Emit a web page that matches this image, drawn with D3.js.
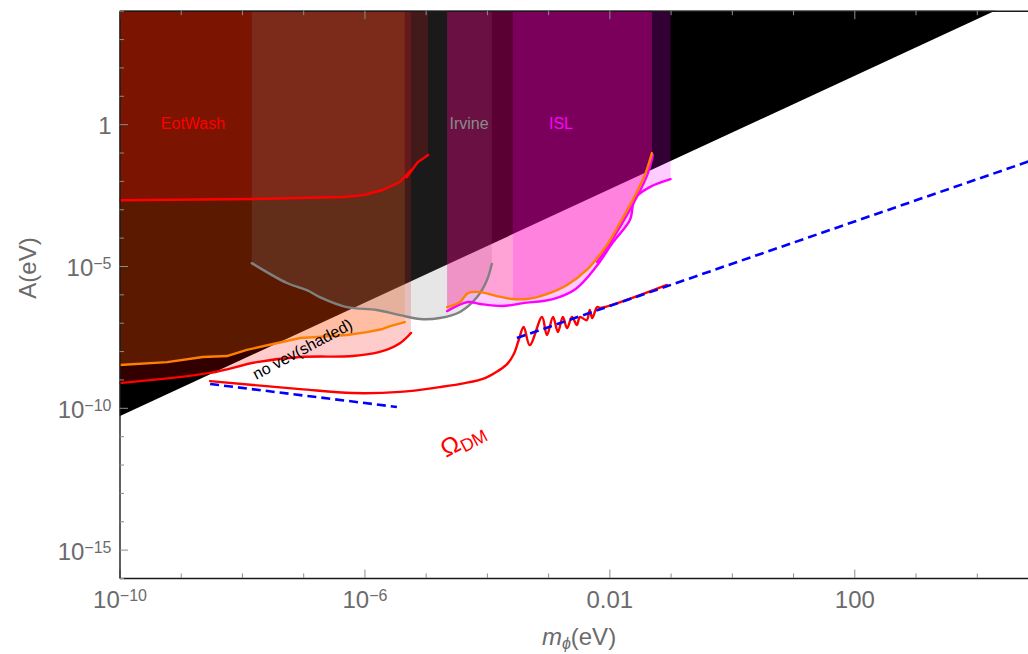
<!DOCTYPE html>
<html><head><meta charset="utf-8">
<script src="https://cdn.jsdelivr.net/npm/d3@7/dist/d3.min.js"></script>
<style>
body{margin:0;background:#fff}
svg{display:block}
text{font-family:"Liberation Sans",Arial,Helvetica,sans-serif}
</style>
</head><body>
<svg id="c" width="1028" height="654"></svg>
<script>
// ---------------- data (log10 m [eV], log10 A [eV]) ----------------
const xDomain = [1e-10, 1e5];
const yDomain = [1e-16, 1e4];
const xMinorTicks = [1e-10,1e-9,1e-8,1e-7,1e-6,1e-5,1e-4,1e-3,1e-2,1e-1,1,10,100,1e3,1e4,1e5];
const xMajorTicks = [1e-10, 1e-6, 1e-2, 1e2];
const xTickLabels = [["10","−10"],["10","−6"],["0.01",""],["100",""]];
const yMinorTicks = [1e-16,1e-15,1e-14,1e-13,1e-12,1e-11,1e-10,1e-9,1e-8,1e-7,1e-6,1e-5,1e-4,1e-3,1e-2,1e-1,1,10,100,1e3,1e4];
const yMajorTicks = [1, 1e-5, 1e-10, 1e-15];
const yTickLabels = [["1",""],["10","−5"],["10","−10"],["10","−15"]];

// boundary A = m/2 (no vev above)
const vevLine = [[-10,-10.3],[5,4.7]];

// EotWash upper red curve
const eotUpper = [[-10,-2.68],[-7.82,-2.64],[-6.35,-2.57],[-6.02,-2.50],[-5.70,-2.32],[-5.42,-2.04],
  [-5.24,-1.62],[-5.31,-1.87],[-5.13,-1.34],[-4.96,-1.09]];
// EotWash lower red curve
const eotLower = [[-10,-9.13],[-8.52,-8.77],[-7.755,-8.39],[-7.05,-8.21],[-6.19,-8.175],[-5.75,-8.03],
  [-5.42,-7.72],[-5.24,-7.36]];
// orange curve (left)
const orangeLeft = [[-10,-8.49],[-9.22,-8.39],[-8.64,-8.21],[-8.245,-8.175],[-7.92,-7.96],[-7.49,-7.75],
  [-7.05,-7.54],[-6.775,-7.505],[-6.285,-7.435],[-5.96,-7.33],[-5.70,-7.22],[-5.58,-7.12],[-5.34,-6.98]];
// Irvine gray curve
const irvineGray = [[-7.84,-4.90],[-7.265,-5.60],[-6.94,-5.85],[-6.73,-6.095],[-6.285,-6.45],[-5.80,-6.55],
  [-5.42,-6.73],[-5.09,-6.87],[-4.77,-6.835],[-4.44,-6.62],[-4.16,-6.095],[-4.00,-5.50],[-3.92,-4.93]];
// orange curve (right, ISL region)
const orangeRight = [[-4.65,-6.45],[-4.44,-6.27],[-4.31,-5.955],[-4.11,-5.92],[-3.84,-6.06],[-3.575,-6.165],
  [-3.35,-6.165],[-3.02,-5.99],[-2.69,-5.67],[-2.37,-5.14],[-2.04,-4.26],[-1.83,-3.49],[-1.62,-2.68],
  [-1.42,-1.79],[-1.305,-1.02]];
// ISL magenta outer curve
const islOuter = [[-4.65,-6.59],[-4.31,-6.27],[-4.11,-6.34],[-3.74,-6.41],[-3.41,-6.31],[-2.92,-6.165],
  [-2.55,-5.81],[-2.22,-5.04],[-1.94,-4.16],[-1.665,-3.38],[-1.58,-2.61],[-1.34,-2.22],[-1.00,-1.94]];
// ISL magenta inner curve
const islInner = [[-2.20,-4.86],[-2.01,-4.26],[-1.79,-3.49],[-1.58,-2.68],[-1.38,-1.79],[-1.29,-1.09]];
// Omega_DM red curve
const omegaDM = [[-8.52,-9.06],[-7.05,-9.34],[-6.19,-9.48],[-5.42,-9.44],[-4.77,-9.27],[-4.36,-9.13],
  [-4.03,-8.95],[-3.82,-8.70],[-3.67,-8.46],[-3.56,-8.10],[-3.48,-7.61],[-3.40,-7.15],[-3.30,-7.79],
  [-3.10,-6.80],[-3.02,-7.435],[-2.92,-6.80],[-2.84,-7.33],[-2.76,-6.80],[-2.69,-7.19],[-2.61,-6.80],
  [-2.53,-7.08],[-2.48,-6.80],[-2.37,-6.91],[-2.32,-6.55],[-2.28,-6.84],[-2.20,-6.45],[-2.15,-6.48],
  [-1.06,-5.67]];
// blue dashed asymptotes
const blueLow = [[-8.52,-9.16],[-5.47,-9.97]];
const blueHigh = [[-3.51,-7.54],[5,-1.2]];

// ---------------- drawing ----------------
const svg = d3.select('#c');
const x = d3.scaleLog().domain(xDomain).range([119.5, 1038]);
const y = d3.scaleLog().domain(yDomain).range([578, 10.7]);
const X = p => x(Math.pow(10, p[0]));
const Y = p => y(Math.pow(10, p[1]));
const line = d3.line().x(X).y(Y);
const smooth = d3.line().x(X).y(Y).curve(d3.curveCatmullRom.alpha(0.5));
const topLog = 5;
const above = c => c.concat([[c[c.length-1][0], topLog], [c[0][0], topLog]]);

svg.append('defs').append('clipPath').attr('id','clip')
  .append('rect').attr('x',119.5).attr('y',10.7).attr('width',1038-119.5).attr('height',578-10.7);

const g = svg.append('g').attr('clip-path','url(#clip)');

// black "no vev" region
g.append('path').attr('d', line([vevLine[0], vevLine[1], [-10, vevLine[1][1]]]) + 'Z').attr('fill','#000');

const fills = [
  {c: eotLower, col: 'rgb(255,0,0)'},
  {c: orangeLeft, col: 'rgb(255,128,0)'},
  {c: eotUpper, col: 'rgb(255,0,0)'},
  {c: irvineGray, col: 'rgb(128,128,128)'},
  {c: orangeRight, col: 'rgb(255,0,0)'},
  {c: islOuter, col: 'rgb(255,0,255)'},
  {c: orangeRight.filter(p => p[0] >= -3.58), col: 'rgb(255,0,255)'}
];
fills.forEach(f => {
  g.append('path').attr('d', line(above(f.c)) + 'Z').attr('fill', f.col).attr('fill-opacity', 0.2);
});

const curves = [
  {c: eotUpper, col: '#ff0000', s: false},
  {c: eotLower, col: '#ff0000', s: true},
  {c: orangeLeft, col: '#ff8000', s: false},
  {c: irvineGray, col: '#808080', s: true},
  {c: islOuter, col: '#ff00ff', s: true},
  {c: islInner, col: '#ff00ff', s: true},
  {c: orangeRight, col: '#ff8000', s: true},
  {c: omegaDM, col: '#ff0000', s: true}
];
curves.forEach(k => {
  g.append('path').attr('d', (k.s ? smooth : line)(k.c)).attr('fill','none').attr('stroke', k.col)
    .attr('stroke-width', 2.4).attr('stroke-linejoin','round').attr('stroke-linecap','round');
});
[blueLow, blueHigh].forEach(k => {
  g.append('path').attr('d', line(k)).attr('fill','none').attr('stroke','#0000ff')
    .attr('stroke-width', 2.6).attr('stroke-dasharray','9,5');
});

// region labels
g.append('text').attr('x', 193).attr('y', 129).attr('text-anchor','middle').attr('font-size',16).attr('fill','#ff0000').text('EotWash');
g.append('text').attr('x', 469).attr('y', 129).attr('text-anchor','middle').attr('font-size',16).attr('fill','#8a8a8a').text('Irvine');
g.append('text').attr('x', 561).attr('y', 129).attr('text-anchor','middle').attr('font-size',16).attr('fill','#ff00ff').text('ISL');
g.append('text').attr('transform','translate(305,354) rotate(-28)').attr('text-anchor','middle')
  .attr('font-size',16).attr('fill','#000').text('no vev(shaded)');
const om = g.append('text').attr('transform','translate(446,458) rotate(-28)').attr('fill','#ff0000');
om.append('tspan').attr('font-size',25).text('Ω');
om.append('tspan').attr('font-size',18).attr('dy',4).text('DM');

// ---------------- axes ----------------
function styleAxis(sel, majors) {
  sel.select('.domain').attr('stroke','#1a1a1a').attr('stroke-width',1.4);
  sel.selectAll('.tick line').attr('stroke','#8c8c8c').attr('stroke-width',1);
  sel.selectAll('.tick').each(function(d){
    const isMajor = majors.some(m => Math.abs(Math.log10(m) - Math.log10(d)) < 1e-6);
    if (!isMajor) d3.select(this).select('line').each(function(){
      const l = d3.select(this);
      if (l.attr('y2') !== null && +l.attr('y2') !== 0) l.attr('y2', +l.attr('y2') > 0 ? 4.5 : -4.5);
      if (l.attr('x2') !== null && +l.attr('x2') !== 0) l.attr('x2', +l.attr('x2') > 0 ? 4.5 : -4.5);
    });
  });
}
function labelTicks(sel, majors, labels) {
  sel.selectAll('.tick text').each(function(d){
    const t = d3.select(this);
    const i = majors.findIndex(m => Math.abs(Math.log10(m) - Math.log10(d)) < 1e-6);
    t.text(null);
    if (i < 0) return;
    t.attr('fill','#6b6b6b').attr('font-size',24);
    t.append('tspan').text(labels[i][0]);
    if (labels[i][1]) t.append('tspan').attr('font-size',16).attr('dy','-0.42em').text(labels[i][1]);
  });
}

const xAxis = d3.axisBottom(x).tickValues(xMinorTicks).tickSizeInner(-8.5).tickSizeOuter(0).tickPadding(13).tickFormat(() => '');
const gx = svg.append('g').attr('transform','translate(0,578)').call(xAxis);
gx.attr('font-family', null);
styleAxis(gx, xMajorTicks);
labelTicks(gx, xMajorTicks, xTickLabels);

const xTop = d3.axisTop(x).tickValues(xMinorTicks).tickSizeInner(-8.5).tickSizeOuter(0).tickFormat(() => '');
const gxt = svg.append('g').attr('transform','translate(0,10.7)').call(xTop);
styleAxis(gxt, xMajorTicks);

const yAxis = d3.axisLeft(y).tickValues(yMinorTicks).tickSizeInner(-8.5).tickSizeOuter(0).tickPadding(8).tickFormat(() => '');
const gy = svg.append('g').attr('transform','translate(119.5,0)').call(yAxis);
gy.attr('font-family', null);
styleAxis(gy, yMajorTicks);
labelTicks(gy, yMajorTicks, yTickLabels);
gy.selectAll('.tick text').attr('dy','0.4em');

// axis titles
svg.append('text').attr('transform','translate(36,268) rotate(-90)').attr('text-anchor','middle')
  .attr('font-size',24).attr('fill','#6b6b6b').text('A(eV)');
const xt = svg.append('text').attr('x',579).attr('y',645).attr('text-anchor','middle').attr('font-size',24).attr('fill','#6b6b6b');
xt.append('tspan').attr('font-style','italic').text('m');
xt.append('tspan').attr('font-size',16).attr('dy',4).attr('font-style','italic').text('ϕ');
xt.append('tspan').attr('dy',-4).text('(eV)');
</script>
</body></html>
